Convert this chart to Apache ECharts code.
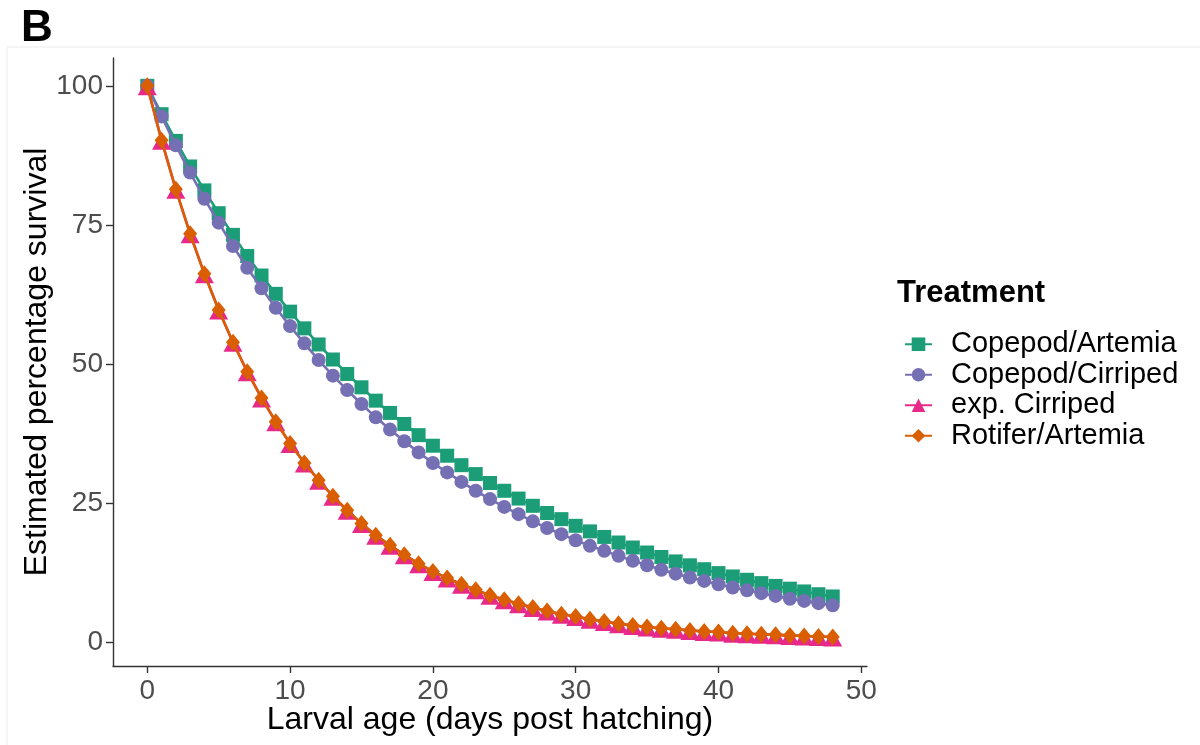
<!DOCTYPE html>
<html>
<head>
<meta charset="utf-8">
<title>Estimated percentage survival by treatment</title>
<script src="https://cdn.jsdelivr.net/npm/echarts@6/dist/echarts.min.js"></script>
<style>
  html, body { margin: 0; padding: 0; background: #ffffff; }
  #chart { width: 1200px; height: 745px; }
</style>
</head>
<body>
<div id="chart"></div>
<script>
// Larval age in days post hatching
const days = [0,1,2,3,4,5,6,7,8,9,10,11,12,13,14,15,16,17,18,19,20,21,22,23,24,
  25,26,27,28,29,30,31,32,33,34,35,36,37,38,39,40,41,42,43,44,45,46,47,48];

// Estimated percentage survival per treatment
const copepodArtemia = [100,94.9,90.1,85.5,81.2,77.1,73.2,69.4,65.9,62.6,59.4,56.4,53.5,50.8,48.2,
  45.8,43.4,41.2,39.2,37.2,35.3,33.5,31.8,30.2,28.6,27.2,25.8,24.5,23.2,22.1,20.9,19.9,18.9,
  17.9,17.0,16.1,15.3,14.5,13.8,13.1,12.4,11.8,11.2,10.6,10.1,9.6,9.1,8.6,8.2];

const copepodCirriped = [100,94.5,89.3,84.4,79.7,75.4,71.2,67.3,63.6,60.1,56.8,53.7,50.7,47.9,45.3,
  42.8,40.4,38.2,36.1,34.1,32.2,30.5,28.8,27.2,25.7,24.3,23.0,21.7,20.5,19.4,18.3,17.3,16.4,
  15.5,14.6,13.8,13.0,12.3,11.6,11.0,10.4,9.8,9.3,8.8,8.3,7.8,7.4,7.0,6.6];

const expCirriped = [100,90.2,81.4,73.4,66.2,59.7,53.9,48.6,43.9,39.6,35.7,32.2,29.1,26.2,23.7,
  21.3,19.2,17.4,15.7,14.1,12.7,11.5,10.4,9.4,8.4,7.6,6.9,6.2,5.6,5.0,4.6,4.1,3.7,
  3.3,3.0,2.7,2.5,2.3,2.1,1.9,1.8,1.6,1.5,1.4,1.3,1.2,1.1,1.0,0.9];

const rotiferArtemia = [100,90.2,81.4,73.4,66.2,59.7,53.9,48.6,43.9,39.6,35.7,32.2,29.1,26.2,23.7,
  21.3,19.2,17.4,15.7,14.1,12.7,11.5,10.4,9.4,8.4,7.6,6.9,6.2,5.6,5.0,4.6,4.1,3.7,
  3.3,3.0,2.7,2.5,2.3,2.1,1.9,1.8,1.6,1.5,1.4,1.3,1.2,1.1,1.0,0.9];

const xTicks = [0, 10, 20, 30, 40, 50];
const yTicks = [0, 25, 50, 75, 100];

const FONT = "'Liberation Sans', Arial, Helvetica, sans-serif";
const AXIS_COLOR = '#333333';
const TICK_TEXT = '#4d4d4d';

function pairs(ys) {
  return days.map((d, i) => [d, ys[i]]);
}

const seriesDefs = [
  { name: 'Copepod/Artemia', values: copepodArtemia, color: '#1b9e77', symbol: 'rect', size: 14 },
  { name: 'Copepod/Cirriped', values: copepodCirriped, color: '#7570b3', symbol: 'circle', size: 14 },
  { name: 'exp. Cirriped', values: expCirriped, color: '#e7298a', symbol: 'triangle', size: [19, 17], offset: [0, 1] },
  { name: 'Rotifer/Artemia', values: rotiferArtemia, color: '#d95f02', symbol: 'diamond', size: [14, 17] }
];

const chart = echarts.init(document.getElementById('chart'), null, { renderer: 'canvas' });

chart.setOption({
  backgroundColor: '#ffffff',
  animation: false,
  textStyle: { fontFamily: FONT },
  graphic: [
    {
      type: 'rect',
      shape: { x: 7, y: 47, width: 1210, height: 720 },
      style: { fill: 'none', stroke: '#ebebeb', lineWidth: 1 },
      silent: true, z: -10
    },
    {
      type: 'text',
      x: 21, y: 29,
      style: { text: 'B', font: 'bold 44px ' + FONT, fill: '#000000', textVerticalAlign: 'middle' }
    },
    {
      type: 'text',
      x: 897, y: 293,
      style: { text: 'Treatment', font: 'bold 31px ' + FONT, fill: '#000000', textVerticalAlign: 'middle' }
    }
  ],
  grid: { left: 113, right: 333, top: 58, bottom: 79, containLabel: false },
  legend: {
    orient: 'vertical',
    left: 899,
    top: 324,
    itemWidth: 27,
    itemHeight: 17,
    itemGap: 0,
    selectedMode: false,
    data: seriesDefs.map(s => s.name),
    textStyle: {
      fontFamily: FONT,
      fontSize: 29,
      color: '#000000',
      lineHeight: 30.5,
      padding: [0, 0, 0, 14]
    }
  },
  xAxis: {
    type: 'value',
    min: -2.4,
    max: 50.4,
    name: 'Larval age (days post hatching)',
    nameLocation: 'middle',
    nameGap: 38,
    nameMoveOverlap: false,
    nameTextStyle: { fontFamily: FONT, fontSize: 32, color: '#000000' },
    splitLine: { show: false },
    axisLine: { show: true, onZero: false, lineStyle: { color: AXIS_COLOR, width: 1.4 } },
    axisTick: { show: true, length: 7, customValues: xTicks, lineStyle: { color: AXIS_COLOR, width: 1.4 } },
    axisLabel: { customValues: xTicks, fontFamily: FONT, fontSize: 28, color: TICK_TEXT, margin: 11 }
  },
  yAxis: {
    type: 'value',
    min: -4.3,
    max: 105,
    name: 'Estimated percentage survival',
    nameLocation: 'middle',
    nameGap: 60,
    nameMoveOverlap: false,
    nameTextStyle: { fontFamily: FONT, fontSize: 32, color: '#000000' },
    splitLine: { show: false },
    axisLine: { show: true, onZero: false, lineStyle: { color: AXIS_COLOR, width: 1.4 } },
    axisTick: { show: true, length: 7, customValues: yTicks, lineStyle: { color: AXIS_COLOR, width: 1.4 } },
    axisLabel: { customValues: yTicks, fontFamily: FONT, fontSize: 28, color: TICK_TEXT, margin: 10 }
  },
  series: seriesDefs.map((s, i) => ({
    name: s.name,
    type: 'line',
    data: pairs(s.values),
    symbol: s.symbol,
    symbolSize: s.size,
    symbolOffset: s.offset || [0, 0],
    showAllSymbol: true,
    z: 2 + i,
    lineStyle: { color: s.color, width: 2.6 },
    itemStyle: { color: s.color, opacity: 1 },
    emphasis: { disabled: true }
  }))
});
</script>
</body>
</html>
